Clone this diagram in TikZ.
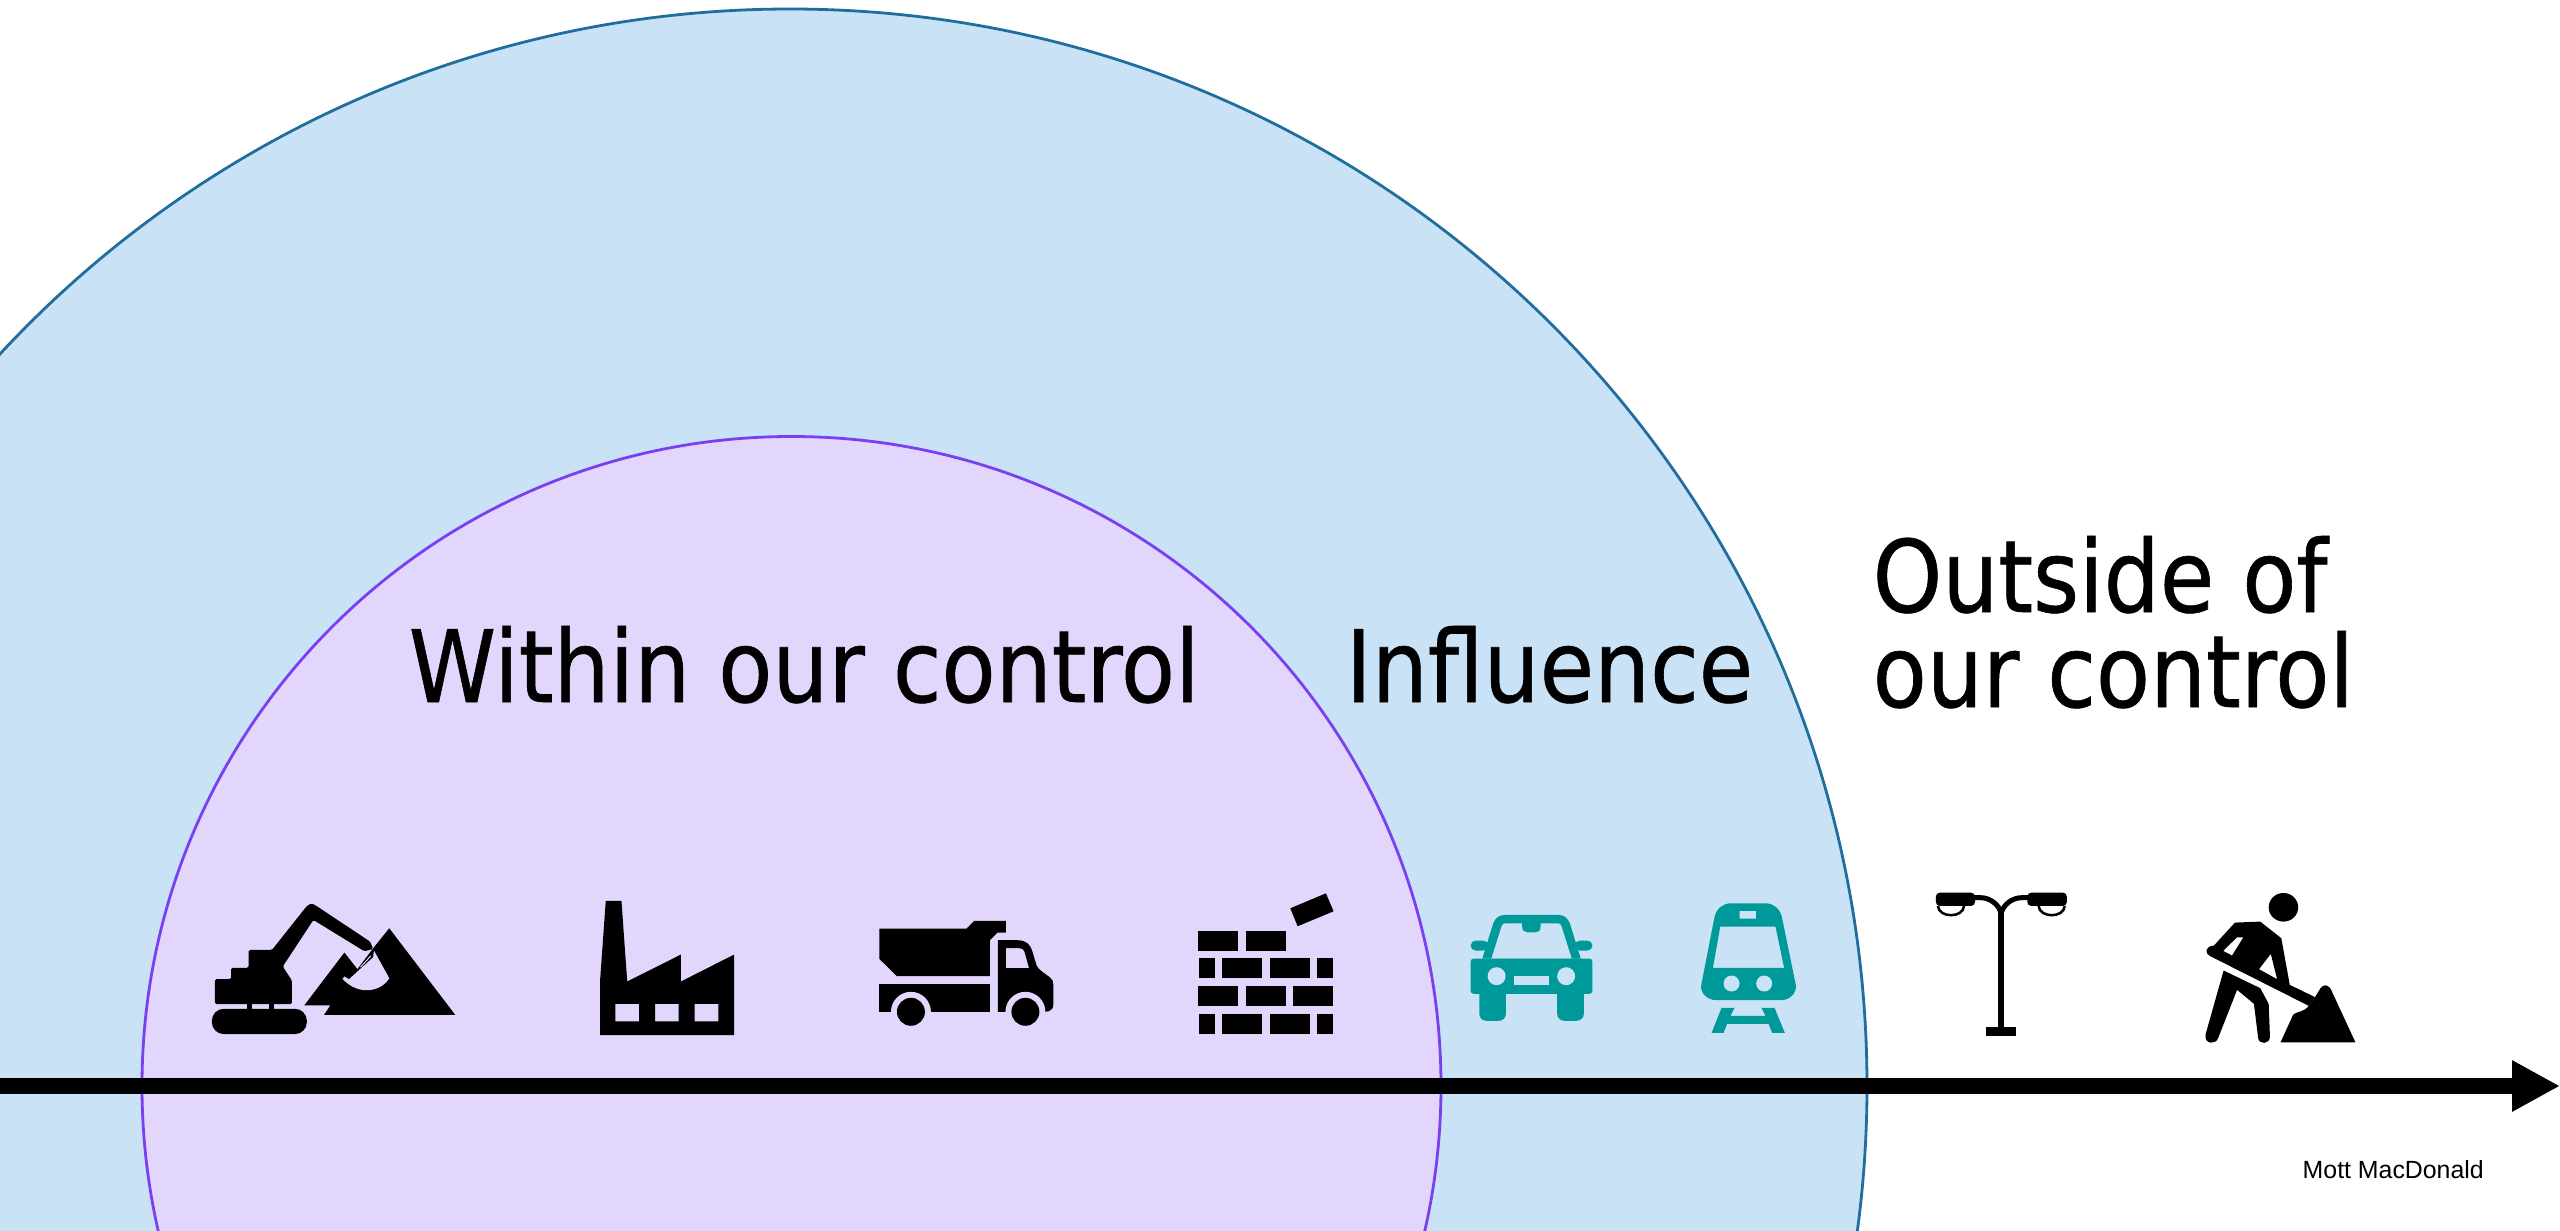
\documentclass[tikz,border=0pt]{standalone}
\usepackage{fontspec}
\usetikzlibrary{arrows.meta}
\setmainfont[FakeStretch=0.884,FakeBold=0.6]{DejaVu Sans}
\newfontfamily\smallfont{Liberation Sans}
\definecolor{outerfill}{HTML}{C9E2F5}
\definecolor{outerline}{HTML}{1F6E9E}
\definecolor{innerfill}{HTML}{E2D6FD}
\definecolor{innerline}{HTML}{7B3FF2}
\definecolor{iconteal}{HTML}{009999}
\tikzset{
	zoomone/.style={shift={(190,880)},x=0.003827cm,y=-0.003333cm},
	zoomtwo/.style={shift={(860,880)},x=0.003333cm,y=-0.003333cm},
	zoomthree/.style={shift={(1450,880)},x=0.003333cm,y=-0.003333cm},
	zoomfour/.style={shift={(1900,880)},x=0.004209cm,y=-0.003333cm},
	bigtext/.style={font=\fontsize{28.45}{27}\selectfont,inner sep=0pt,anchor=base west},
	blackicon/.style={fill=black,draw=none,even odd rule},
	tealicon/.style={fill=iconteal,draw=none,even odd rule}
}
\begin{document}
\begin{tikzpicture}[x=0.01cm,y=-0.01cm]
	\useasboundingbox (0,0) rectangle (2560,1230);
	\clip (0,0) rectangle (2560,1230);
	
	%The two circles
	\draw[fill=outerfill,draw=outerline,line width=0.028cm] (790,1086) circle [radius=1077];
	\draw[fill=innerfill,draw=innerline,line width=0.028cm] (791.5,1086) circle [radius=649.5];
	
	%The axis
	\coordinate (axisstart) at (0,1086);
	\coordinate (axisend) at (2560,1086);
	\draw[line width=0.16cm,-{Triangle[length=0.48cm,width=0.48cm]}] (axisstart) -- (axisend);
	
	%The labels
	\node[bigtext] (within) at (408,702) {Within our control};
	\node[bigtext] (influence) at (1345,702) {Influence};
	\node[bigtext] (outside) at (1872,612) {Outside of};
	\node[bigtext] (ourcontrol) at (1872,707) {our control};
	\node[font=\smallfont\fontsize{7.07}{8}\selectfont,inner sep=0pt,anchor=base west] (credit) at (2302,1178) {Mott MacDonald};
	
	%Excavator
	\begin{scope}[zoomone]
		\draw[blackicon,rounded corners=0.12cm] (57,387) rectangle (305,463);
		\fill (148,370) rectangle (162,390);
		\fill (205,370) rectangle (220,390);
		\path[blackicon,rounded corners=0.015cm] (65,298) -- (107,298) -- (107,264) -- (153,264) -- (153,210) -- (214,210) -- (305,78) -- (317,70) -- (330,78) -- (470,185) -- (478,207) -- (455,214) -- (322,120) -- (242,260) -- (266,302) -- (266,373) -- (65,373) -- cycle;
		\path[blackicon] (298,377) -- (403,218) -- (437,268) -- (478,205) -- (520,145) -- (692,405) -- (350,405) -- (366,377) -- cycle;
		\fill[innerfill] (480,212) -- (520,295) .. controls (500,335) and (440,350) .. (398,297) -- (403,290) -- (415,298) -- (478,232) -- cycle;
		\draw[innerfill,line width=0.01cm] (445,262) -- (472,228);
	\end{scope}
	
	%Factory
	\begin{scope}[zoomone]
		\path[blackicon] (1085,63) -- (1126,63) -- (1141,305) -- (1281,224) -- (1281,305) -- (1420,224) -- (1420,466) -- (1070,466) -- (1070,305) -- cycle
			(1110,372) rectangle (1172,425)
			(1214,372) rectangle (1275,425)
			(1317,372) rectangle (1379,425);
	\end{scope}
	
	%Truck
	\begin{scope}[zoomtwo]
		\path[blackicon] (58,146) -- (320,146) -- (343,123) -- (438,123) -- (438,158) -- (413,158) -- (390,181) -- (390,289) -- (111,289) -- (58,237) -- cycle;
		\path[blackicon] (58,312) rectangle (390,396);
		\path[blackicon] (414,181) -- (475,181) .. controls (500,181) and (513,195) .. (518,215) -- (530,255) .. controls (533,265) and (540,270) .. (570,292) .. controls (578,298) and (581,305) .. (581,315) -- (581,375) .. controls (581,388) and (570,396) .. (556,396) -- (414,396) -- cycle
			(438,205) -- (480,205) .. controls (488,205) and (492,210) .. (494,215) -- (508,265) -- (438,265) -- cycle;
		\fill[innerfill] (153,396) circle [radius=60];
		\fill[innerfill] (497,396) circle [radius=60];
		\fill (153,396) circle [radius=42];
		\fill (497,396) circle [radius=42];
	\end{scope}
	
	%Bricks
	\begin{scope}[zoomtwo]
		\foreach \a/\b/\y in {1017/1137/153,1161/1281/153,
			1020/1068/234,1089/1209/234,1233/1353/234,1374/1422/234,
			1017/1137/318,1161/1281/318,1302/1422/318,
			1020/1068/402,1089/1209/402,1233/1353/402,1374/1422/402}
			\fill (\a,\y) rectangle (\b,\y+60);
		\fill (1293,85) -- (1400,40) -- (1423,94) -- (1315,139) -- cycle;
	\end{scope}
	
	%Car
	\begin{scope}[zoomthree]
		\fill[iconteal,rounded corners=0.03cm] (62,236) rectangle (428,342);
		\fill[iconteal,rounded corners=0.07cm] (88,300) rectangle (168,423);
		\fill[iconteal,rounded corners=0.07cm] (322,300) rectangle (402,423);
		\path[tealicon] (97,236) -- (130,130) .. controls (136,114) and (148,105) .. (165,105) -- (325,105) .. controls (342,105) and (354,114) .. (360,130) -- (393,236) -- cycle
			(124,236) -- (155,138) .. controls (157,132) and (160,130) .. (166,130) -- (217,130) -- (217,140) .. controls (217,152) and (224,157) .. (232,157) -- (258,157) .. controls (266,157) and (272,152) .. (272,140) -- (272,130) -- (324,130) .. controls (330,130) and (333,132) .. (335,138) -- (366,236) -- cycle;
		\fill[iconteal,rounded corners=0.05cm] (62,182) rectangle (115,212);
		\fill[iconteal,rounded corners=0.05cm] (375,182) rectangle (428,212);
		\fill[outerfill] (140,289) circle [radius=27];
		\fill[outerfill] (349,289) circle [radius=27];
		\fill[outerfill] (192,288) rectangle (297,316);
	\end{scope}
	
	%Train
	\begin{scope}[zoomthree]
		\path[tealicon] (795,110) .. controls (802,85) and (820,70) .. (845,70) -- (947,70) .. controls (972,70) and (990,85) .. (997,110) -- (1039,315) .. controls (1043,340) and (1020,361) .. (995,361) -- (800,361) .. controls (775,361) and (750,340) .. (755,315) -- cycle
			(812,140) -- (978,140) -- (1004,264) -- (790,264) -- cycle
			(870,93) rectangle (920,116);
		\fill[outerfill] (846,311) circle [radius=24];
		\fill[outerfill] (944,311) circle [radius=24];
		\path[tealicon] (816,384) -- (855,384) -- (843,408) -- (948,408) -- (936,384) -- (975,384) -- (1006,459) -- (968,459) -- (957,432) -- (833,432) -- (822,459) -- (786,459) -- cycle;
	\end{scope}
	
	%Lamp
	\begin{scope}[zoomfour]
		\fill (233,95) rectangle (247,445);
		\fill (205,441) rectangle (276,470);
		\fill[rounded corners=0.04cm] (85,38) rectangle (178,78);
		\fill[rounded corners=0.04cm] (302,38) rectangle (396,78);
		\draw[line width=0.05cm] (170,53) -- (190,53) .. controls (215,53) and (235,75) .. (240,100) .. controls (245,75) and (265,53) .. (290,53) -- (310,53);
		\draw[line width=0.025cm] (90,78) .. controls (92,115) and (150,115) .. (152,78);
		\draw[line width=0.025cm] (329,78) .. controls (331,115) and (389,115) .. (391,78);
	\end{scope}
	
	%Worker
	\begin{scope}[zoomfour]
		\fill (910,82) circle [x radius=35,y radius=43];
		\path[blackicon] (795,128) -- (855,125) -- (905,175) -- (925,315) -- (985,352) -- (970,378) -- (735,228) .. controls (722,220) and (725,198) .. (745,197) -- cycle
			(800,172) -- (815,172) -- (788,227) -- (767,213) -- cycle
			(880,222) -- (895,298) -- (852,268) -- cycle;
		\fill (768,272) -- (855,325) -- (875,372) -- (878,470) .. controls (878,495) and (852,495) .. (850,475) -- (840,372) -- (800,330) -- (755,475) .. controls (750,495) and (722,495) .. (725,465) -- cycle;
		\fill (985,352) -- (998,325) .. controls (1005,312) and (1018,312) .. (1025,335) -- (1081,488) -- (903,488) -- (933,405) .. controls (938,395) and (960,398) .. (970,378) -- cycle;
	\end{scope}
\end{tikzpicture}
\end{document}
